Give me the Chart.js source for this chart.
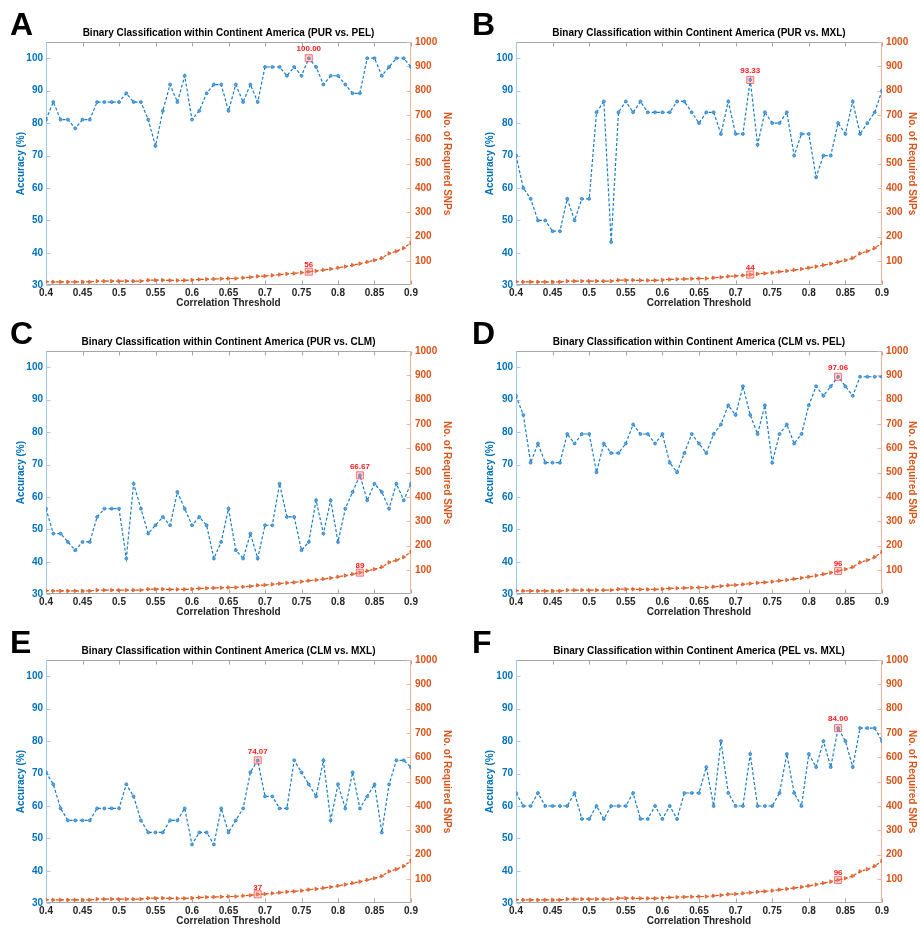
<!DOCTYPE html>
<html>
<head>
<meta charset="utf-8">
<script src="https://cdn.jsdelivr.net/npm/chart.js@4.4.0/dist/chart.umd.min.js"></script>
<style>
    body { margin: 0; background: #fff; }
    #wrap { position: relative; width: 921px; height: 929px; }
    .panel { position: absolute; }
    .letter {
        position: absolute;
        font: bold 32px "Liberation Sans", Arial, sans-serif;
        line-height: 32px;
        color: #000;
    }
</style>
</head>
<body>
<div id="wrap"></div>

<script>
/* =========================
   DATA
========================= */

const thresholds = [0.40, 0.41, 0.42, 0.43, 0.44, 0.45, 0.46, 0.47, 0.48, 0.49,
    0.50, 0.51, 0.52, 0.53, 0.54, 0.55, 0.56, 0.57, 0.58, 0.59,
    0.60, 0.61, 0.62, 0.63, 0.64, 0.65, 0.66, 0.67, 0.68, 0.69,
    0.70, 0.71, 0.72, 0.73, 0.74, 0.75, 0.76, 0.77, 0.78, 0.79,
    0.80, 0.81, 0.82, 0.83, 0.84, 0.85, 0.86, 0.87, 0.88, 0.89, 0.90];

// number of SNPs kept at each threshold (same for every pair)
const snpCounts = [15, 14, 14, 14, 14, 14, 14, 17, 17, 17,
    17, 17, 17, 17, 21, 21, 21, 20, 20, 20,
    22, 24, 25, 26, 27, 28, 28, 31, 33, 37,
    38, 41, 44, 47, 49, 52, 56, 59, 63, 67,
    72, 77, 83, 89, 96, 103, 112, 131, 140, 153, 174];

const accPurPel = [81.08, 86.49, 81.08, 81.08, 78.38, 81.08, 81.08, 86.49, 86.49, 86.49,
    86.49, 89.19, 86.49, 86.49, 81.08, 72.97, 83.78, 91.89, 86.49, 94.59,
    81.08, 83.78, 89.19, 91.89, 91.89, 83.78, 91.89, 86.49, 91.89, 86.49,
    97.30, 97.30, 97.30, 94.59, 97.30, 94.59, 100.00, 97.30, 91.89, 94.59,
    94.59, 91.89, 89.19, 89.19, 100.00, 100.00, 94.59, 97.30, 100.00, 100.00, 97.30];

const accPurMxl = [70.00, 60.00, 56.67, 50.00, 50.00, 46.67, 46.67, 56.67, 50.00, 56.67,
    56.67, 83.33, 86.67, 43.33, 83.33, 86.67, 83.33, 86.67, 83.33, 83.33,
    83.33, 83.33, 86.67, 86.67, 83.33, 80.00, 83.33, 83.33, 76.67, 86.67,
    76.67, 76.67, 93.33, 73.33, 83.33, 80.00, 80.00, 83.33, 70.00, 76.67,
    76.67, 63.33, 70.00, 70.00, 80.00, 76.67, 86.67, 76.67, 80.00, 83.33, 90.00];

const accPurClm = [56.41, 48.72, 48.72, 46.15, 43.59, 46.15, 46.15, 53.85, 56.41, 56.41,
    56.41, 41.03, 64.10, 56.41, 48.72, 51.28, 53.85, 51.28, 61.54, 56.41,
    51.28, 53.85, 51.28, 41.03, 46.15, 56.41, 43.59, 41.03, 48.72, 41.03,
    51.28, 51.28, 64.10, 53.85, 53.85, 43.59, 46.15, 58.97, 48.72, 58.97,
    46.15, 56.41, 61.54, 66.67, 58.97, 64.10, 61.54, 56.41, 64.10, 58.97, 64.10];

const accClmPel = [91.18, 85.29, 70.59, 76.47, 70.59, 70.59, 70.59, 79.41, 76.47, 79.41,
    79.41, 67.65, 76.47, 73.53, 73.53, 76.47, 82.35, 79.41, 79.41, 76.47,
    79.41, 70.59, 67.65, 73.53, 79.41, 76.47, 73.53, 79.41, 82.35, 88.24,
    85.29, 94.12, 85.29, 79.41, 88.24, 70.59, 79.41, 82.35, 76.47, 79.41,
    88.24, 94.12, 91.18, 94.12, 97.06, 94.12, 91.18, 97.06, 97.06, 97.06, 97.06];

const accClmMxl = [70.37, 66.67, 59.26, 55.56, 55.56, 55.56, 55.56, 59.26, 59.26, 59.26,
    59.26, 66.67, 62.96, 55.56, 51.85, 51.85, 51.85, 55.56, 55.56, 59.26,
    48.15, 51.85, 51.85, 48.15, 59.26, 51.85, 55.56, 59.26, 70.37, 74.07,
    62.96, 62.96, 59.26, 59.26, 74.07, 70.37, 66.67, 62.96, 74.07, 55.56,
    66.67, 59.26, 70.37, 59.26, 62.96, 66.67, 51.85, 66.67, 74.07, 74.07, 71.90];

const accPelMxl = [64, 60, 60, 64, 60, 60, 60, 60, 64, 56,
    56, 60, 56, 60, 60, 60, 64, 56, 56, 60,
    56, 60, 56, 64, 64, 64, 72, 60, 80, 64,
    60, 60, 76, 60, 60, 60, 64, 76, 64, 60,
    76, 72, 80, 72, 84, 80, 72, 84, 84, 84, 80];

const panelLetters = ["A", "B", "C", "D", "E", "F"];
const panelPairs = ["PUR vs. PEL", "PUR vs. MXL", "PUR vs. CLM", "CLM vs. PEL", "CLM vs. MXL", "PEL vs. MXL"];
const panelAcc = [accPurPel, accPurMxl, accPurClm, accClmPel, accClmMxl, accPelMxl];

const xTicks = [0.4, 0.45, 0.5, 0.55, 0.6, 0.65, 0.7, 0.75, 0.8, 0.85, 0.9];
const accTicks = [30, 40, 50, 60, 70, 80, 90, 100];
const snpTicks = [100, 200, 300, 400, 500, 600, 700, 800, 900, 1000];


/* =========================
   STYLE
========================= */

const BLUE = "#0072BD";
const ORANGE = "#D95319";
const DARK = "#262626";
const FONT = '"Liberation Sans", Arial, sans-serif';

Chart.defaults.font.family = FONT;
Chart.defaults.animation = false;

// per column: canvas left/width, left axis width, right axis width, title offsets
const columns = [
    { left: 0, width: 460, yw: 46, y1w: 49, yPad: 15, y1Pad: 7, letterX: 10 },
    { left: 460, width: 461, yw: 56, y1w: 39, yPad: 24, y1Pad: 3, letterX: 472 }
];
const rowTops = [0, 309, 618];
const PANEL_H = 309;


/* =========================
   DECORATION PLUGIN
========================= */

const decor = {
    id: "decor",
    beforeDatasetsDraw(chart) {
        const { ctx, chartArea: a, scales } = chart;
        const L = Math.round(a.left) + 0.5;
        const R = Math.round(a.right) - 0.5;
        const T = Math.round(a.top) + 0.5;
        const B = Math.round(a.bottom) - 0.5;
        const tl = 4;

        ctx.save();
        ctx.lineWidth = 1;

        // top/bottom box + x ticks
        ctx.strokeStyle = "#a6a6a6";
        ctx.beginPath();
        ctx.moveTo(L, T); ctx.lineTo(R, T);
        ctx.moveTo(L, B); ctx.lineTo(R, B);
        xTicks.forEach(v => {
            const x = Math.round(scales.x.getPixelForValue(v)) + 0.5;
            ctx.moveTo(x, B); ctx.lineTo(x, B - tl);
            ctx.moveTo(x, T); ctx.lineTo(x, T + tl);
        });
        ctx.stroke();

        // left axis
        ctx.strokeStyle = "#9ccbee";
        ctx.beginPath();
        ctx.moveTo(L, T); ctx.lineTo(L, B);
        accTicks.forEach(v => {
            const y = Math.round(scales.y.getPixelForValue(v)) + 0.5;
            ctx.moveTo(L, y); ctx.lineTo(L + tl, y);
        });
        ctx.stroke();

        // right axis
        ctx.strokeStyle = "#f2b39a";
        ctx.beginPath();
        ctx.moveTo(R, T); ctx.lineTo(R, B);
        snpTicks.forEach(v => {
            const y = Math.round(scales.y1.getPixelForValue(v)) + 0.5;
            ctx.moveTo(R, y); ctx.lineTo(R - tl, y);
        });
        ctx.stroke();
        ctx.restore();
    },
    afterDatasetsDraw(chart) {
        const { ctx } = chart;
        ctx.save();
        ctx.fillStyle = "#ff1a1a";
        ctx.textAlign = "center";
        ctx.textBaseline = "middle";
        ctx.font = "bold 8px " + FONT;
        chart.data.datasets.forEach((ds, i) => {
            if (!ds.hiLabel) return;
            const pt = chart.getDatasetMeta(i).data[0];
            ctx.fillText(ds.hiLabel, pt.x, pt.y - ds.hiOffset);
        });
        ctx.restore();
    },
    afterDraw(chart, args, opts) {
        const { ctx, chartArea: a } = chart;
        ctx.save();
        ctx.fillStyle = "#000";
        ctx.textAlign = "center";
        ctx.textBaseline = "middle";
        ctx.font = "bold 10px " + FONT;
        ctx.fillText(opts.title, (a.left + a.right) / 2, 33);
        ctx.restore();
    }
};


/* =========================
   BUILD PANELS
========================= */

function renderPanel(idx) {
    const col = columns[idx % 2];
    const top = rowTops[Math.floor(idx / 2)];
    const acc = panelAcc[idx];

    const wrap = document.getElementById("wrap");
    const holder = document.createElement("div");
    holder.className = "panel";
    holder.style.left = col.left + "px";
    holder.style.top = top + "px";
    const canvas = document.createElement("canvas");
    canvas.width = col.width;
    canvas.height = PANEL_H;
    holder.appendChild(canvas);
    wrap.appendChild(holder);

    const letter = document.createElement("div");
    letter.className = "letter";
    letter.textContent = panelLetters[idx];
    letter.style.left = col.letterX + "px";
    letter.style.top = (top + 8) + "px";
    wrap.appendChild(letter);

    const best = acc.indexOf(Math.max(...acc));

    new Chart(canvas, {
        type: "line",
        data: {
            datasets: [
                {
                    label: "hiAcc",
                    data: [{ x: thresholds[best], y: acc[best] }],
                    yAxisID: "y",
                    showLine: false,
                    pointStyle: "rect",
                    pointRadius: 5,
                    backgroundColor: "rgba(255,130,130,0.35)",
                    borderColor: "rgba(255,70,70,0.7)",
                    borderWidth: 1,
                    hiLabel: acc[best].toFixed(2),
                    hiOffset: 9
                },
                {
                    label: "hiSnp",
                    data: [{ x: thresholds[best], y: snpCounts[best] }],
                    yAxisID: "y1",
                    showLine: false,
                    pointStyle: "rect",
                    pointRadius: 5,
                    backgroundColor: "rgba(255,130,130,0.35)",
                    borderColor: "rgba(255,70,70,0.7)",
                    borderWidth: 1,
                    hiLabel: String(snpCounts[best]),
                    hiOffset: 7
                },
                {
                    label: "Accuracy",
                    data: thresholds.map((t, i) => ({ x: t, y: acc[i] })),
                    yAxisID: "y",
                    borderColor: "#1a7cc6",
                    backgroundColor: "#5fa4dc",
                    pointBorderColor: "#1a7cc6",
                    borderWidth: 1.2,
                    borderDash: [3, 2],
                    pointStyle: "circle",
                    pointRadius: 1.5,
                    pointBorderWidth: 0.7,
                    tension: 0
                },
                {
                    label: "SNPs",
                    data: thresholds.map((t, i) => ({ x: t, y: snpCounts[i] })),
                    yAxisID: "y1",
                    borderColor: ORANGE,
                    backgroundColor: "#e57a4c",
                    pointBorderColor: ORANGE,
                    borderWidth: 1.2,
                    borderDash: [3, 2],
                    pointStyle: "triangle",
                    rotation: 90,
                    pointRadius: 2.1,
                    pointBorderWidth: 0.7,
                    tension: 0
                }
            ]
        },
        options: {
            responsive: false,
            layout: { padding: { top: 42, left: 0, right: 0, bottom: 0 } },
            plugins: {
                legend: { display: false },
                tooltip: { enabled: false },
                decor: { title: "Binary Classification within Continent America (" + panelPairs[idx] + ")" }
            },
            scales: {
                x: {
                    type: "linear",
                    min: 0.4,
                    max: 0.9,
                    afterBuildTicks: s => { s.ticks = xTicks.map(v => ({ value: v })); },
                    afterFit: s => { s.height = 23.7; },
                    grid: { display: false, drawTicks: false },
                    border: { display: false },
                    ticks: {
                        padding: 2,
                        color: DARK,
                        font: { size: 10, weight: "bold" },
                        maxRotation: 0,
                        callback: v => String(Number(v.toFixed(2)))
                    },
                    title: {
                        display: true,
                        text: "Correlation Threshold",
                        color: DARK,
                        font: { size: 10, weight: "bold" },
                        padding: { top: 0, bottom: 0 }
                    }
                },
                y: {
                    position: "left",
                    min: 30,
                    max: 105,
                    afterBuildTicks: s => { s.ticks = accTicks.map(v => ({ value: v })); },
                    afterFit: s => { s.width = col.yw; },
                    grid: { display: false, drawTicks: false },
                    border: { display: false },
                    ticks: {
                        padding: 3,
                        color: BLUE,
                        font: { size: 10, weight: "bold" },
                        callback: v => String(v)
                    },
                    title: {
                        display: true,
                        text: "Accuracy (%)",
                        color: BLUE,
                        font: { size: 10, weight: "bold" },
                        padding: { top: col.yPad, bottom: 0 }
                    }
                },
                y1: {
                    position: "right",
                    min: 0,
                    max: 1000,
                    afterBuildTicks: s => { s.ticks = snpTicks.map(v => ({ value: v })); },
                    afterFit: s => { s.width = col.y1w; },
                    grid: { display: false, drawTicks: false },
                    border: { display: false },
                    ticks: {
                        padding: 4,
                        color: ORANGE,
                        font: { size: 10, weight: "bold" },
                        callback: v => String(v)
                    },
                    title: {
                        display: true,
                        text: "No. of Required SNPs",
                        color: ORANGE,
                        font: { size: 10, weight: "bold" },
                        padding: { top: col.y1Pad, bottom: 0 }
                    }
                }
            }
        },
        plugins: [decor]
    });
}

for (let i = 0; i < 6; i++) renderPanel(i);
</script>
</body>
</html>
